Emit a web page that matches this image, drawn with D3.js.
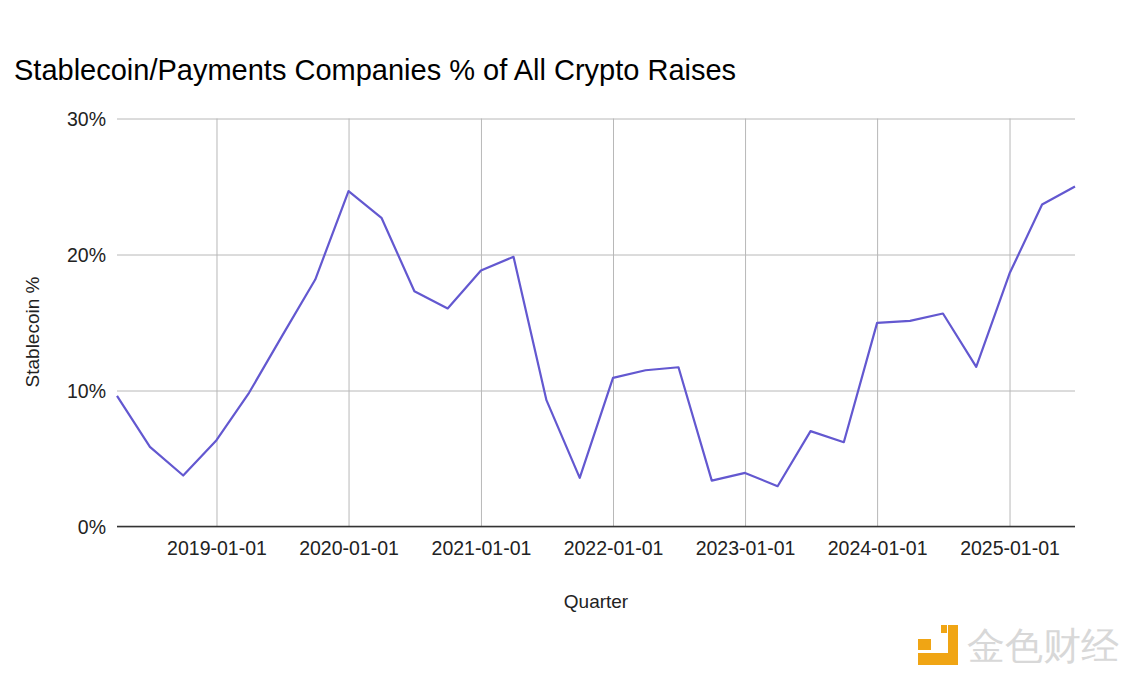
<!DOCTYPE html>
<html><head><meta charset="utf-8">
<script src="https://cdn.jsdelivr.net/npm/d3@7"></script>
<style>body{margin:0;background:#fff}svg{display:block}text{font-family:"Liberation Sans",Arial,sans-serif}</style>
</head><body><svg id="c" width="1128" height="676"></svg>
<script>
const quarters = ["2018-04-01","2018-07-01","2018-10-01","2019-01-01","2019-04-01","2019-07-01","2019-10-01","2020-01-01","2020-04-01","2020-07-01","2020-10-01","2021-01-01","2021-04-01","2021-07-01","2021-10-01","2022-01-01","2022-04-01","2022-07-01","2022-10-01","2023-01-01","2023-04-01","2023-07-01","2023-10-01","2024-01-01","2024-04-01","2024-07-01","2024-10-01","2025-01-01","2025-04-01","2025-07-01"];
const stablecoinPct = [9.6,5.86,3.75,6.35,9.83,14.0,18.16,24.66,22.7,17.3,16.03,18.82,19.83,9.29,3.58,10.93,11.49,11.71,3.37,3.94,2.96,7.01,6.2,14.97,15.12,15.66,11.74,18.6,23.67,25.0];
const xTickLabels = ["2019-01-01","2020-01-01","2021-01-01","2022-01-01","2023-01-01","2024-01-01","2025-01-01"];
const yTicks = [0,10,20,30];

const parse = d3.utcParse("%Y-%m-%d");
const data = quarters.map((q,i)=>({d:parse(q), v:stablecoinPct[i]}));
const svg = d3.select("#c");
const L=117, R=1075, T=118.5, B=526.5;
const x = d3.scaleUtc().domain([parse(quarters[0]), parse(quarters[quarters.length-1])]).range([L,R]);
const y = d3.scaleLinear().domain([0,30]).range([B,T]);

svg.append("text").attr("x",14).attr("y",80).attr("font-size",29).attr("fill","#000")
  .text("Stablecoin/Payments Companies % of All Crypto Raises");

// horizontal grid
const yAxis = d3.axisLeft(y).tickValues(yTicks).tickSize(-(R-L)).tickFormat(d=>d+"%");
const gy = svg.append("g").attr("transform",`translate(${L},0)`).call(yAxis);
gy.select(".domain").remove();
gy.selectAll(".tick line").attr("stroke","#b8b8b8").attr("stroke-width",1);
gy.selectAll(".tick text").attr("x",-11).attr("font-size",19.5).attr("fill","#222").attr("dy","0.35em");

// vertical grid + x labels
const xt = xTickLabels.map(parse);
const xAxis = d3.axisBottom(x).tickValues(xt).tickSize(-(B-T)).tickFormat(d3.utcFormat("%Y-%m-%d"));
const gx = svg.append("g").attr("transform",`translate(0,${B})`).call(xAxis);
gx.select(".domain").remove();
gx.selectAll(".tick line").attr("stroke","#b8b8b8").attr("stroke-width",1);
gx.selectAll(".tick text").attr("y",15).attr("font-size",19.5).attr("fill","#222");

// baseline
svg.append("line").attr("x1",L).attr("x2",R).attr("y1",y(0)).attr("y2",y(0)).attr("stroke","#333").attr("stroke-width",1.5);

svg.append("path").datum(data).attr("fill","none").attr("stroke","#6358d0").attr("stroke-width",2.2)
  .attr("stroke-linejoin","round")
  .attr("d", d3.line().x(d=>x(d.d)).y(d=>y(d.v)));

svg.append("text").attr("transform",`translate(39,332) rotate(-90)`).attr("text-anchor","middle")
  .attr("font-size",19).attr("fill","#222").text("Stablecoin %");
svg.append("text").attr("x",596).attr("y",608).attr("text-anchor","middle").attr("font-size",19).attr("fill","#222").text("Quarter");

// watermark
const wm = svg.append("g").attr("fill","#f0a514");
wm.append("rect").attr("x",918).attr("y",639).attr("width",13).attr("height",11);
wm.append("rect").attr("x",941).attr("y",625).attr("width",6).attr("height",8);
wm.append("rect").attr("x",948).attr("y",625).attr("width",10).attr("height",40);
wm.append("rect").attr("x",918).attr("y",653).attr("width",40).attr("height",12);
svg.append("text").attr("x",967).attr("y",659).attr("font-size",37.5)
  .attr("font-family","Noto Sans CJK SC").attr("fill","#d8d8d8").text("金色财经");
</script></body></html>
